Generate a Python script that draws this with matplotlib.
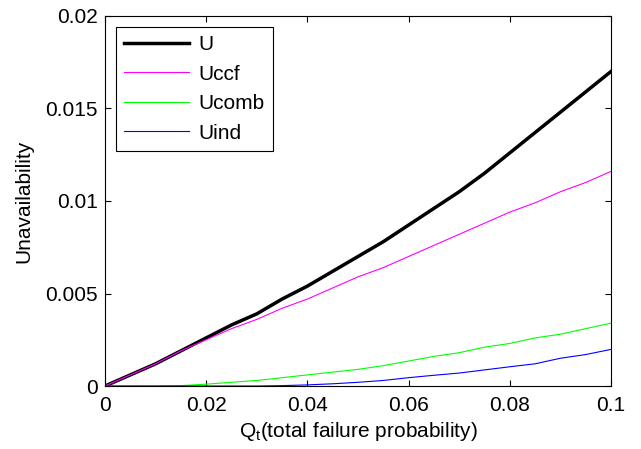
import numpy as np
import matplotlib.pyplot as plt

plt.rcParams['font.family'] = ['Liberation Sans', 'DejaVu Sans']
plt.rcParams['mathtext.fontset'] = 'custom'
plt.rcParams['mathtext.rm'] = 'Liberation Sans'
plt.rcParams['mathtext.it'] = 'Liberation Sans'

# Qt values (x axis)
qt = [0, 0.005, 0.01, 0.015, 0.02, 0.025, 0.03, 0.035, 0.04, 0.045, 0.05,
      0.055, 0.06, 0.065, 0.07, 0.075, 0.08, 0.085, 0.09, 0.095, 0.1]

# series
u = [0, 0.0006, 0.0012, 0.0019, 0.0026, 0.0033, 0.0039, 0.0047, 0.0054, 0.0062, 0.0070,
     0.0078, 0.0087, 0.0096, 0.0105, 0.0115, 0.0126, 0.0137, 0.0148, 0.0159, 0.0170]
u_ccf = [0, 0.0006, 0.0012, 0.0019, 0.0025, 0.0031, 0.0036, 0.0042, 0.0047, 0.0053, 0.0059,
         0.0064, 0.0070, 0.0076, 0.0082, 0.0088, 0.0094, 0.0099, 0.0105, 0.0110, 0.0116]
u_comb = [0, 0, 0, 0.00002, 0.0001, 0.0002, 0.0003, 0.00045, 0.0006, 0.00075, 0.0009,
          0.0011, 0.00135, 0.0016, 0.0018, 0.0021, 0.0023, 0.0026, 0.0028, 0.0031, 0.0034]
u_ind = [0, 0, 0, 0, 0, 0, 0, 0.00002, 0.00006, 0.00012, 0.0002,
         0.0003, 0.00045, 0.00058, 0.0007, 0.00087, 0.00104, 0.0012, 0.0015, 0.0017, 0.00198]

fig = plt.figure(figsize=(6.41, 4.49), dpi=100)
ax = fig.add_axes([0.1638, 0.1403, 0.7894, 0.8241])

ax.plot(qt, u, color='black', lw=2.5, label='U')
ax.plot(qt, u_ccf, color='#ff00ff', lw=0.8, label='Uccf')
ax.plot(qt, u_comb, color='#00ff00', lw=0.8, label='Ucomb')
ax.plot(qt, u_ind, color='#0000ff', lw=0.8, label='Uind')

ax.set_xlim(0, 0.1)
ax.set_ylim(0, 0.02)
ax.set_xticks([0, 0.02, 0.04, 0.06, 0.08, 0.1])
ax.set_xticklabels(['0', '0.02', '0.04', '0.06', '0.08', '0.1'])
ax.set_yticks([0, 0.005, 0.01, 0.015, 0.02])
ax.set_yticklabels(['0', '0.005', '0.01', '0.015', '0.02'])
ax.tick_params(direction='in', top=True, right=True, labelsize=15, length=4)
ax.tick_params(axis='x', pad=7)
ax.tick_params(axis='y', pad=5)
for s in ax.spines.values():
    s.set_linewidth(0.8)

ax.set_xlabel('$\\mathregular{Q_t}$(total failure probability)', fontsize=15, labelpad=4)
ax.set_ylabel('Unavailability', fontsize=15, labelpad=9)

leg = ax.legend(loc='upper left', fontsize=15, handlelength=3.1, handletextpad=0.45,
                labelspacing=0.5, fancybox=False, framealpha=1, edgecolor='black',
                borderaxespad=0.53, borderpad=0.4)
leg.get_frame().set_linewidth(0.8)

fig.savefig('out.png', dpi=100)
